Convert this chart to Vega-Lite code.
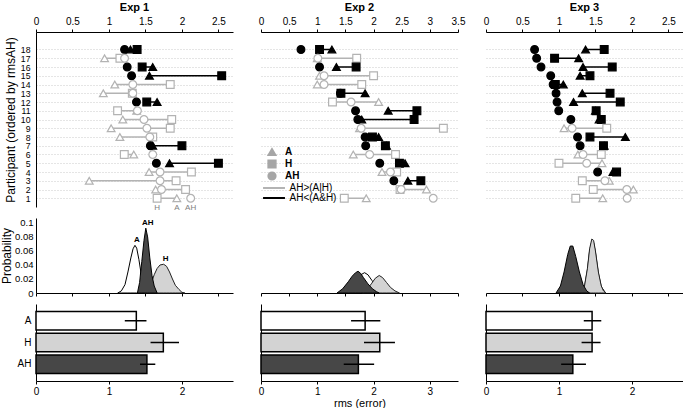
{
  "$schema": "https://vega.github.io/schema/vega-lite/v6.json",
  "background": "white",
  "padding": {"left": 0, "top": 2, "right": 0, "bottom": 0},
  "config": {
    "font": "Liberation Sans",
    "view": {"stroke": null},
    "axis": {"labelFontSize": 10, "labelColor": "#000", "domainColor": "#000", "tickColor": "#000", "titleFontWeight": "normal", "titleFontSize": 12, "titleColor": "#000", "labelFlush": false, "grid": false, "labelOverlap": false},
    "title": {"fontSize": 11, "fontWeight": "bold", "offset": 3, "color": "#000"},
    "legend": {"labelColor": "#000", "padding": 0}
  },
  "datasets": {
    "exp1": [
      {"p": 18, "A": 1.295, "H": 1.386, "AH": 1.214},
      {"p": 17, "A": 0.94, "H": 1.15, "AH": 1.214},
      {"p": 16, "A": 1.6, "H": 1.455, "AH": 1.25},
      {"p": 15, "A": 1.555, "H": 2.545, "AH": 1.31},
      {"p": 14, "A": 1.08, "H": 1.84, "AH": 1.327},
      {"p": 13, "A": 0.923, "H": 1.32, "AH": 1.327},
      {"p": 12, "A": 1.66, "H": 1.518, "AH": 1.377},
      {"p": 11, "A": 1.38, "H": 1.118, "AH": 1.39},
      {"p": 10, "A": 1.19, "H": 1.86, "AH": 1.48},
      {"p": 9, "A": 1.03, "H": 1.84, "AH": 1.52},
      {"p": 8, "A": 1.15, "H": 1.6, "AH": 1.56},
      {"p": 7, "A": 1.6, "H": 2.0, "AH": 1.568},
      {"p": 6, "A": 1.34, "H": 1.21, "AH": 1.6},
      {"p": 5, "A": 1.83, "H": 2.5, "AH": 1.65},
      {"p": 4, "A": 1.55, "H": 2.13, "AH": 1.7},
      {"p": 3, "A": 0.73, "H": 1.92, "AH": 1.7},
      {"p": 2, "A": 1.64, "H": 2.05, "AH": 1.72},
      {"p": 1, "A": 1.93, "H": 1.66, "AH": 2.12}
    ],
    "exp2": [
      {"p": 18, "A": 1.26, "H": 1.04, "AH": 0.71},
      {"p": 17, "A": 1.0, "H": 1.7, "AH": 1.01},
      {"p": 16, "A": 1.34, "H": 1.69, "AH": 1.04},
      {"p": 15, "A": 1.04, "H": 2.0, "AH": 1.12},
      {"p": 14, "A": 1.0, "H": 1.79, "AH": 1.12},
      {"p": 13, "A": 1.85, "H": 1.42, "AH": 1.41},
      {"p": 12, "A": 2.09, "H": 1.27, "AH": 1.6},
      {"p": 11, "A": 2.26, "H": 2.77, "AH": 1.68},
      {"p": 10, "A": 1.79, "H": 2.72, "AH": 1.72},
      {"p": 9, "A": 1.75, "H": 3.24, "AH": 1.78},
      {"p": 8, "A": 2.09, "H": 1.98, "AH": 1.85},
      {"p": 7, "A": 2.23, "H": 2.21, "AH": 1.86},
      {"p": 6, "A": 1.64, "H": 2.39, "AH": 1.93},
      {"p": 5, "A": 2.56, "H": 2.46, "AH": 2.11},
      {"p": 4, "A": 2.15, "H": 2.41, "AH": 2.3},
      {"p": 3, "A": 2.61, "H": 2.84, "AH": 2.36},
      {"p": 2, "A": 2.94, "H": 2.47, "AH": 2.49},
      {"p": 1, "A": 1.87, "H": 1.48, "AH": 3.06}
    ],
    "exp3": [
      {"p": 18, "A": 1.365, "H": 1.62, "AH": 0.666},
      {"p": 17, "A": 1.27, "H": 0.94, "AH": 0.694},
      {"p": 16, "A": 1.33, "H": 1.73, "AH": 0.754},
      {"p": 15, "A": 1.29, "H": 1.425, "AH": 0.887},
      {"p": 14, "A": 1.06, "H": 0.95, "AH": 0.92},
      {"p": 13, "A": 1.32, "H": 1.7, "AH": 0.96},
      {"p": 12, "A": 1.2, "H": 1.84, "AH": 0.974},
      {"p": 11, "A": 1.5, "H": 1.51, "AH": 0.997},
      {"p": 10, "A": 1.55, "H": 1.58, "AH": 1.163},
      {"p": 9, "A": 1.07, "H": 1.655, "AH": 1.18},
      {"p": 8, "A": 1.91, "H": 1.425, "AH": 1.255},
      {"p": 7, "A": 1.62, "H": 1.61, "AH": 1.29},
      {"p": 6, "A": 1.26, "H": 1.58, "AH": 1.33},
      {"p": 5, "A": 1.59, "H": 1.0, "AH": 1.38},
      {"p": 4, "A": 1.74, "H": 1.79, "AH": 1.53},
      {"p": 3, "A": 1.69, "H": 1.32, "AH": 1.63},
      {"p": 2, "A": 2.02, "H": 1.47, "AH": 1.93},
      {"p": 1, "A": 1.6, "H": 1.23, "AH": 1.935}
    ],
    "dens": [
      {"e": 1, "m": "A", "x": 1.12, "p": 0}, {"e": 1, "m": "A", "x": 1.17, "p": 0.003}, {"e": 1, "m": "A", "x": 1.22, "p": 0.012}, {"e": 1, "m": "A", "x": 1.26, "p": 0.03}, {"e": 1, "m": "A", "x": 1.3, "p": 0.05}, {"e": 1, "m": "A", "x": 1.33, "p": 0.063}, {"e": 1, "m": "A", "x": 1.356, "p": 0.068}, {"e": 1, "m": "A", "x": 1.38, "p": 0.064}, {"e": 1, "m": "A", "x": 1.41, "p": 0.048}, {"e": 1, "m": "A", "x": 1.44, "p": 0.028}, {"e": 1, "m": "A", "x": 1.47, "p": 0.012}, {"e": 1, "m": "A", "x": 1.5, "p": 0.004}, {"e": 1, "m": "A", "x": 1.54, "p": 0},
      {"e": 1, "m": "H", "x": 1.48, "p": 0}, {"e": 1, "m": "H", "x": 1.53, "p": 0.004}, {"e": 1, "m": "H", "x": 1.58, "p": 0.014}, {"e": 1, "m": "H", "x": 1.62, "p": 0.026}, {"e": 1, "m": "H", "x": 1.66, "p": 0.035}, {"e": 1, "m": "H", "x": 1.7, "p": 0.04}, {"e": 1, "m": "H", "x": 1.75, "p": 0.041}, {"e": 1, "m": "H", "x": 1.79, "p": 0.038}, {"e": 1, "m": "H", "x": 1.83, "p": 0.03}, {"e": 1, "m": "H", "x": 1.87, "p": 0.02}, {"e": 1, "m": "H", "x": 1.91, "p": 0.011}, {"e": 1, "m": "H", "x": 1.96, "p": 0.005}, {"e": 1, "m": "H", "x": 2.0, "p": 0.001}, {"e": 1, "m": "H", "x": 2.04, "p": 0},
      {"e": 1, "m": "AH", "x": 1.39, "p": 0}, {"e": 1, "m": "AH", "x": 1.42, "p": 0.015}, {"e": 1, "m": "AH", "x": 1.45, "p": 0.045}, {"e": 1, "m": "AH", "x": 1.48, "p": 0.075}, {"e": 1, "m": "AH", "x": 1.505, "p": 0.0925}, {"e": 1, "m": "AH", "x": 1.53, "p": 0.08}, {"e": 1, "m": "AH", "x": 1.56, "p": 0.05}, {"e": 1, "m": "AH", "x": 1.59, "p": 0.025}, {"e": 1, "m": "AH", "x": 1.62, "p": 0.01}, {"e": 1, "m": "AH", "x": 1.66, "p": 0},
      {"e": 2, "m": "A", "x": 1.45, "p": 0}, {"e": 2, "m": "A", "x": 1.55, "p": 0.006}, {"e": 2, "m": "A", "x": 1.65, "p": 0.016}, {"e": 2, "m": "A", "x": 1.75, "p": 0.025}, {"e": 2, "m": "A", "x": 1.84, "p": 0.029}, {"e": 2, "m": "A", "x": 1.9, "p": 0.026}, {"e": 2, "m": "A", "x": 1.97, "p": 0.018}, {"e": 2, "m": "A", "x": 2.05, "p": 0.009}, {"e": 2, "m": "A", "x": 2.13, "p": 0.003}, {"e": 2, "m": "A", "x": 2.23, "p": 0},
      {"e": 2, "m": "H", "x": 1.8, "p": 0}, {"e": 2, "m": "H", "x": 1.88, "p": 0.005}, {"e": 2, "m": "H", "x": 1.96, "p": 0.013}, {"e": 2, "m": "H", "x": 2.03, "p": 0.021}, {"e": 2, "m": "H", "x": 2.1, "p": 0.025}, {"e": 2, "m": "H", "x": 2.16, "p": 0.022}, {"e": 2, "m": "H", "x": 2.23, "p": 0.015}, {"e": 2, "m": "H", "x": 2.3, "p": 0.008}, {"e": 2, "m": "H", "x": 2.38, "p": 0.003}, {"e": 2, "m": "H", "x": 2.46, "p": 0},
      {"e": 2, "m": "AH", "x": 1.35, "p": 0}, {"e": 2, "m": "AH", "x": 1.45, "p": 0.006}, {"e": 2, "m": "AH", "x": 1.55, "p": 0.016}, {"e": 2, "m": "AH", "x": 1.62, "p": 0.024}, {"e": 2, "m": "AH", "x": 1.68, "p": 0.029}, {"e": 2, "m": "AH", "x": 1.725, "p": 0.031}, {"e": 2, "m": "AH", "x": 1.77, "p": 0.028}, {"e": 2, "m": "AH", "x": 1.82, "p": 0.022}, {"e": 2, "m": "AH", "x": 1.9, "p": 0.013}, {"e": 2, "m": "AH", "x": 1.98, "p": 0.006}, {"e": 2, "m": "AH", "x": 2.05, "p": 0.002}, {"e": 2, "m": "AH", "x": 2.1, "p": 0},
      {"e": 3, "m": "A", "x": 1.3, "p": 0}, {"e": 3, "m": "A", "x": 1.35, "p": 0.009}, {"e": 3, "m": "A", "x": 1.39, "p": 0.033}, {"e": 3, "m": "A", "x": 1.42, "p": 0.06}, {"e": 3, "m": "A", "x": 1.45, "p": 0.074}, {"e": 3, "m": "A", "x": 1.475, "p": 0.072}, {"e": 3, "m": "A", "x": 1.5, "p": 0.058}, {"e": 3, "m": "A", "x": 1.54, "p": 0.028}, {"e": 3, "m": "A", "x": 1.58, "p": 0.009}, {"e": 3, "m": "A", "x": 1.64, "p": 0},
      {"e": 3, "m": "H", "x": 1.3, "p": 0}, {"e": 3, "m": "H", "x": 1.35, "p": 0.01}, {"e": 3, "m": "H", "x": 1.39, "p": 0.035}, {"e": 3, "m": "H", "x": 1.42, "p": 0.063}, {"e": 3, "m": "H", "x": 1.45, "p": 0.077}, {"e": 3, "m": "H", "x": 1.475, "p": 0.075}, {"e": 3, "m": "H", "x": 1.5, "p": 0.06}, {"e": 3, "m": "H", "x": 1.54, "p": 0.03}, {"e": 3, "m": "H", "x": 1.58, "p": 0.01}, {"e": 3, "m": "H", "x": 1.61, "p": 0.003}, {"e": 3, "m": "H", "x": 1.64, "p": 0},
      {"e": 3, "m": "AH", "x": 0.96, "p": 0}, {"e": 3, "m": "AH", "x": 1.02, "p": 0.01}, {"e": 3, "m": "AH", "x": 1.07, "p": 0.03}, {"e": 3, "m": "AH", "x": 1.12, "p": 0.055}, {"e": 3, "m": "AH", "x": 1.155, "p": 0.067}, {"e": 3, "m": "AH", "x": 1.19, "p": 0.067}, {"e": 3, "m": "AH", "x": 1.23, "p": 0.052}, {"e": 3, "m": "AH", "x": 1.28, "p": 0.03}, {"e": 3, "m": "AH", "x": 1.33, "p": 0.012}, {"e": 3, "m": "AH", "x": 1.38, "p": 0.003}, {"e": 3, "m": "AH", "x": 1.42, "p": 0}
    ],
    "bars": [
      {"e": 1, "m": "A", "v": 1.375, "lo": 1.217, "hi": 1.514},
      {"e": 1, "m": "H", "v": 1.745, "lo": 1.57, "hi": 1.96},
      {"e": 1, "m": "AH", "v": 1.52, "lo": 1.425, "hi": 1.635},
      {"e": 2, "m": "A", "v": 1.85, "lo": 1.6, "hi": 2.12},
      {"e": 2, "m": "H", "v": 2.11, "lo": 1.83, "hi": 2.38},
      {"e": 2, "m": "AH", "v": 1.73, "lo": 1.47, "hi": 2.01},
      {"e": 3, "m": "A", "v": 1.454, "lo": 1.34, "hi": 1.58},
      {"e": 3, "m": "H", "v": 1.454, "lo": 1.31, "hi": 1.57},
      {"e": 3, "m": "AH", "v": 1.19, "lo": 1.03, "hi": 1.37}
    ]
  },
  "columns": 3,
  "spacing": {"row": 11, "column": 28},
  "bounds": "flush",
  "resolve": {
    "scale": {"x": "independent", "y": "independent", "color": "independent", "stroke": "independent", "fill": "independent", "shape": "independent"},
    "legend": {"color": "independent", "stroke": "independent", "fill": "independent", "shape": "independent"}
  },
  "concat": [
    {
      "width": 197, "height": 175,
      "title": "Exp 1",
      "data": {"name": "exp1"},
      "transform": [{"calculate": "datum.AH < min(datum.A, datum.H) ? 'AH<(A&H)' : 'AH>(A|H)'", "as": "grp"}],
      "encoding": {
        "x": {"field": "v", "type": "quantitative", "scale": {"domain": [0, 2.7], "nice": false, "zero": false}, "axis": {"orient": "top", "values": [0, 0.5, 1, 1.5, 2, 2.5], "format": "~g", "title": null, "tickSize": 3, "labelPadding": 3}},
        "y": {"field": "p", "type": "quantitative", "scale": {"domain": [0, 20], "nice": false}, "axis": {"values": [1, 2, 3, 4, 5, 6, 7, 8, 9, 10, 11, 12, 13, 14, 15, 16, 17, 18], "title": "Participant (ordered by rmsAH)", "ticks": false, "labelFontSize": 8.7, "labelPadding": 6, "labelOverlap": false, "labelBound": false, "grid": true, "gridDash": [1, 2], "gridColor": "#bdbdbd", "gridWidth": 0.8, "titlePadding": 3}}
      },
      "layer": [
        {
          "mark": {"type": "rule", "strokeWidth": 1.5},
          "encoding": {
            "x": {"field": "A", "type": "quantitative"},
            "x2": {"field": "H"},
            "color": {"field": "grp", "type": "nominal", "scale": {"domain": ["AH>(A|H)", "AH<(A&H)"], "range": ["#b3b3b3", "#000000"]}, "legend": null}
          }
        },
        {
          "transform": [{"fold": ["H", "A", "AH"], "as": ["m", "v"]}],
          "mark": {"type": "point", "opacity": 1, "strokeWidth": 1.2, "size": 60},
          "encoding": {
            "shape": {"field": "m", "type": "nominal", "scale": {"domain": ["A", "H", "AH"], "range": ["triangle-up", "square", "circle"]}, "legend": null},
            "stroke": {"field": "grp", "type": "nominal", "scale": {"domain": ["AH>(A|H)", "AH<(A&H)"], "range": ["#b3b3b3", "#000000"]}, "legend": null},
            "fill": {"field": "grp", "type": "nominal", "scale": {"domain": ["AH>(A|H)", "AH<(A&H)"], "range": ["#ffffff", "#000000"]}, "legend": null}
          }
        },
        {
          "transform": [{"fold": ["H", "A", "AH"], "as": ["m", "v"]}, {"filter": "datum.p == 1"}],
          "mark": {"type": "text", "dy": 10, "fontSize": 8, "fill": "#808080"},
          "encoding": {"text": {"field": "m"}}
        }
      ]
    },
    {
      "width": 197, "height": 175,
      "title": "Exp 2",
      "data": {"name": "exp2"},
      "transform": [{"calculate": "datum.AH < min(datum.A, datum.H) ? 'AH<(A&H)' : 'AH>(A|H)'", "as": "grp"}],
      "encoding": {
        "x": {"field": "v", "type": "quantitative", "scale": {"domain": [0, 3.5], "nice": false, "zero": false}, "axis": {"orient": "top", "values": [0, 0.5, 1, 1.5, 2, 2.5, 3, 3.5], "format": "~g", "title": null, "tickSize": 3, "labelPadding": 3}},
        "y": {"field": "p", "type": "quantitative", "scale": {"domain": [0, 20], "nice": false}, "axis": {"values": [1, 2, 3, 4, 5, 6, 7, 8, 9, 10, 11, 12, 13, 14, 15, 16, 17, 18], "title": null, "labels": false, "ticks": false, "domain": false, "grid": true, "gridDash": [1, 2], "gridColor": "#bdbdbd", "gridWidth": 0.8}}
      },
      "layer": [
        {
          "mark": {"type": "rule", "strokeWidth": 1.5},
          "encoding": {
            "x": {"field": "A", "type": "quantitative"},
            "x2": {"field": "H"},
            "color": {"field": "grp", "type": "nominal", "scale": {"domain": ["AH>(A|H)", "AH<(A&H)"], "range": ["#b3b3b3", "#000000"]}, "legend": {"orient": "none", "legendX": 8, "legendY": 151, "title": null, "symbolType": "M-4,0H4", "symbolSize": 30, "symbolStrokeWidth": 2, "labelFontSize": 10, "labelOffset": 10.5, "rowPadding": -1.5}}
          }
        },
        {
          "transform": [{"fold": ["H", "A", "AH"], "as": ["m", "v"]}],
          "mark": {"type": "point", "opacity": 1, "strokeWidth": 1.2, "size": 60},
          "encoding": {
            "shape": {"field": "m", "type": "nominal", "scale": {"domain": ["A", "H", "AH"], "range": ["triangle-up", "square", "circle"]}, "legend": {"orient": "none", "legendX": 6, "legendY": 115, "title": null, "symbolFillColor": "#a6a6a6", "symbolStrokeColor": "#a6a6a6", "symbolSize": 60, "labelFontSize": 10, "labelFontWeight": "bold", "labelOffset": 8, "rowPadding": -2}},
            "stroke": {"field": "grp", "type": "nominal", "scale": {"domain": ["AH>(A|H)", "AH<(A&H)"], "range": ["#b3b3b3", "#000000"]}, "legend": null},
            "fill": {"field": "grp", "type": "nominal", "scale": {"domain": ["AH>(A|H)", "AH<(A&H)"], "range": ["#ffffff", "#000000"]}, "legend": null}
          }
        }
      ]
    },
    {
      "width": 197, "height": 175,
      "title": "Exp 3",
      "data": {"name": "exp3"},
      "transform": [{"calculate": "datum.AH < min(datum.A, datum.H) ? 'AH<(A&H)' : 'AH>(A|H)'", "as": "grp"}],
      "encoding": {
        "x": {"field": "v", "type": "quantitative", "scale": {"domain": [0, 2.7], "nice": false, "zero": false}, "axis": {"orient": "top", "values": [0, 0.5, 1, 1.5, 2, 2.5], "format": "~g", "title": null, "tickSize": 3, "labelPadding": 3}},
        "y": {"field": "p", "type": "quantitative", "scale": {"domain": [0, 20], "nice": false}, "axis": {"values": [1, 2, 3, 4, 5, 6, 7, 8, 9, 10, 11, 12, 13, 14, 15, 16, 17, 18], "title": null, "labels": false, "ticks": false, "domain": false, "grid": true, "gridDash": [1, 2], "gridColor": "#bdbdbd", "gridWidth": 0.8}}
      },
      "layer": [
        {
          "mark": {"type": "rule", "strokeWidth": 1.5},
          "encoding": {
            "x": {"field": "A", "type": "quantitative"},
            "x2": {"field": "H"},
            "color": {"field": "grp", "type": "nominal", "scale": {"domain": ["AH>(A|H)", "AH<(A&H)"], "range": ["#b3b3b3", "#000000"]}, "legend": null}
          }
        },
        {
          "transform": [{"fold": ["H", "A", "AH"], "as": ["m", "v"]}],
          "mark": {"type": "point", "opacity": 1, "strokeWidth": 1.2, "size": 60},
          "encoding": {
            "shape": {"field": "m", "type": "nominal", "scale": {"domain": ["A", "H", "AH"], "range": ["triangle-up", "square", "circle"]}, "legend": null},
            "stroke": {"field": "grp", "type": "nominal", "scale": {"domain": ["AH>(A|H)", "AH<(A&H)"], "range": ["#b3b3b3", "#000000"]}, "legend": null},
            "fill": {"field": "grp", "type": "nominal", "scale": {"domain": ["AH>(A|H)", "AH<(A&H)"], "range": ["#ffffff", "#000000"]}, "legend": null}
          }
        }
      ]
    },
    {
      "width": 197, "height": 75,
      "data": {"name": "dens"},
      "transform": [{"filter": "datum.e == 1"}],
      "encoding": {
        "x": {"field": "x", "type": "quantitative", "scale": {"domain": [0, 2.7], "nice": false, "zero": false}, "axis": {"values": [0, 0.5, 1, 1.5, 2, 2.5], "labels": false, "title": null, "tickSize": 3}},
        "y": {"field": "p", "type": "quantitative", "stack": null, "scale": {"domain": [0, 0.107], "nice": false}, "axis": {"values": [0, 0.02, 0.04, 0.06, 0.08, 0.1], "format": "~g", "title": "Probability", "ticks": false, "labelFontSize": 9.5, "labelPadding": 3, "titlePadding": 1}}
      },
      "layer": [
        {"transform": [{"filter": "datum.m == 'A'"}], "mark": {"type": "area", "fill": "#ffffff", "stroke": "#000", "strokeWidth": 1}},
        {"transform": [{"filter": "datum.m == 'H'"}], "mark": {"type": "area", "fill": "#d3d3d3", "stroke": "#222", "strokeWidth": 1}},
        {"transform": [{"filter": "datum.m == 'AH'"}], "mark": {"type": "area", "fill": "#474747", "stroke": "#000", "strokeWidth": 1}},
        {
          "transform": [{"joinaggregate": [{"op": "max", "field": "p", "as": "pmax"}], "groupby": ["m"]}, {"filter": "datum.p == datum.pmax"}],
          "mark": {"type": "text", "baseline": "bottom", "dy": -1, "dx": 2, "fontSize": 8, "fontWeight": "bold"},
          "encoding": {"text": {"field": "m"}}
        }
      ]
    },
    {
      "width": 197, "height": 75,
      "data": {"name": "dens"},
      "transform": [{"filter": "datum.e == 2"}],
      "encoding": {
        "x": {"field": "x", "type": "quantitative", "scale": {"domain": [0, 3.5], "nice": false, "zero": false}, "axis": {"values": [0, 0.5, 1, 1.5, 2, 2.5, 3, 3.5], "labels": false, "title": null, "tickSize": 3}},
        "y": {"field": "p", "type": "quantitative", "stack": null, "scale": {"domain": [0, 0.107], "nice": false}, "axis": null}
      },
      "layer": [
        {"transform": [{"filter": "datum.m == 'A'"}], "mark": {"type": "area", "fill": "#ffffff", "stroke": "#000", "strokeWidth": 1}},
        {"transform": [{"filter": "datum.m == 'H'"}], "mark": {"type": "area", "fill": "#d3d3d3", "stroke": "#222", "strokeWidth": 1}},
        {"transform": [{"filter": "datum.m == 'AH'"}], "mark": {"type": "area", "fill": "#474747", "stroke": "#000", "strokeWidth": 1}}
      ]
    },
    {
      "width": 197, "height": 75,
      "data": {"name": "dens"},
      "transform": [{"filter": "datum.e == 3"}],
      "encoding": {
        "x": {"field": "x", "type": "quantitative", "scale": {"domain": [0, 2.7], "nice": false, "zero": false}, "axis": {"values": [0, 0.5, 1, 1.5, 2, 2.5], "labels": false, "title": null, "tickSize": 3}},
        "y": {"field": "p", "type": "quantitative", "stack": null, "scale": {"domain": [0, 0.107], "nice": false}, "axis": null}
      },
      "layer": [
        {"transform": [{"filter": "datum.m == 'A'"}], "mark": {"type": "area", "fill": "#ffffff", "stroke": "#000", "strokeWidth": 1}},
        {"transform": [{"filter": "datum.m == 'H'"}], "mark": {"type": "area", "fill": "#d3d3d3", "stroke": "#222", "strokeWidth": 1}},
        {"transform": [{"filter": "datum.m == 'AH'"}], "mark": {"type": "area", "fill": "#474747", "stroke": "#000", "strokeWidth": 1}}
      ]
    },
    {
      "width": 197, "height": 77,
      "data": {"name": "bars"},
      "transform": [{"filter": "datum.e == 1"}],
      "encoding": {
        "y": {"field": "m", "type": "nominal", "sort": ["A", "H", "AH"], "scale": {"paddingInner": 0.16, "paddingOuter": 0.35}, "axis": {"title": null, "ticks": false, "labelPadding": 5}}
      },
      "layer": [
        {"mark": {"type": "bar", "stroke": "#000", "strokeWidth": 1.5},
         "encoding": {
           "x": {"field": "v", "type": "quantitative", "scale": {"domain": [0, 2.7], "nice": false}, "axis": {"values": [0, 0.5, 1, 1.5, 2, 2.5], "format": "~g", "title": null, "tickSize": 3, "labelPadding": 2}},
           "fill": {"field": "m", "type": "nominal", "scale": {"domain": ["A", "H", "AH"], "range": ["#ffffff", "#d3d3d3", "#474747"]}, "legend": null}
         }},
        {"mark": {"type": "rule", "strokeWidth": 1.5, "color": "#000"},
         "encoding": {"x": {"field": "lo", "type": "quantitative"}, "x2": {"field": "hi"}}}
      ]
    },
    {
      "width": 197, "height": 77,
      "data": {"name": "bars"},
      "transform": [{"filter": "datum.e == 2"}],
      "encoding": {
        "y": {"field": "m", "type": "nominal", "sort": ["A", "H", "AH"], "scale": {"paddingInner": 0.16, "paddingOuter": 0.35}, "axis": {"title": null, "ticks": false, "labels": false}}
      },
      "layer": [
        {"mark": {"type": "bar", "stroke": "#000", "strokeWidth": 1.5},
         "encoding": {
           "x": {"field": "v", "type": "quantitative", "scale": {"domain": [0, 3.5], "nice": false}, "axis": {"values": [0, 0.5, 1, 1.5, 2, 2.5, 3, 3.5], "format": "~g", "title": "rms (error)", "titleFontSize": 11, "tickSize": 3, "labelPadding": 2, "titlePadding": 1}},
           "fill": {"field": "m", "type": "nominal", "scale": {"domain": ["A", "H", "AH"], "range": ["#ffffff", "#d3d3d3", "#474747"]}, "legend": null}
         }},
        {"mark": {"type": "rule", "strokeWidth": 1.5, "color": "#000"},
         "encoding": {"x": {"field": "lo", "type": "quantitative"}, "x2": {"field": "hi"}}}
      ]
    },
    {
      "width": 197, "height": 77,
      "data": {"name": "bars"},
      "transform": [{"filter": "datum.e == 3"}],
      "encoding": {
        "y": {"field": "m", "type": "nominal", "sort": ["A", "H", "AH"], "scale": {"paddingInner": 0.16, "paddingOuter": 0.35}, "axis": {"title": null, "ticks": false, "labels": false}}
      },
      "layer": [
        {"mark": {"type": "bar", "stroke": "#000", "strokeWidth": 1.5},
         "encoding": {
           "x": {"field": "v", "type": "quantitative", "scale": {"domain": [0, 2.7], "nice": false}, "axis": {"values": [0, 0.5, 1, 1.5, 2, 2.5], "format": "~g", "title": null, "tickSize": 3, "labelPadding": 2}},
           "fill": {"field": "m", "type": "nominal", "scale": {"domain": ["A", "H", "AH"], "range": ["#ffffff", "#d3d3d3", "#474747"]}, "legend": null}
         }},
        {"mark": {"type": "rule", "strokeWidth": 1.5, "color": "#000"},
         "encoding": {"x": {"field": "lo", "type": "quantitative"}, "x2": {"field": "hi"}}}
      ]
    }
  ]
}
